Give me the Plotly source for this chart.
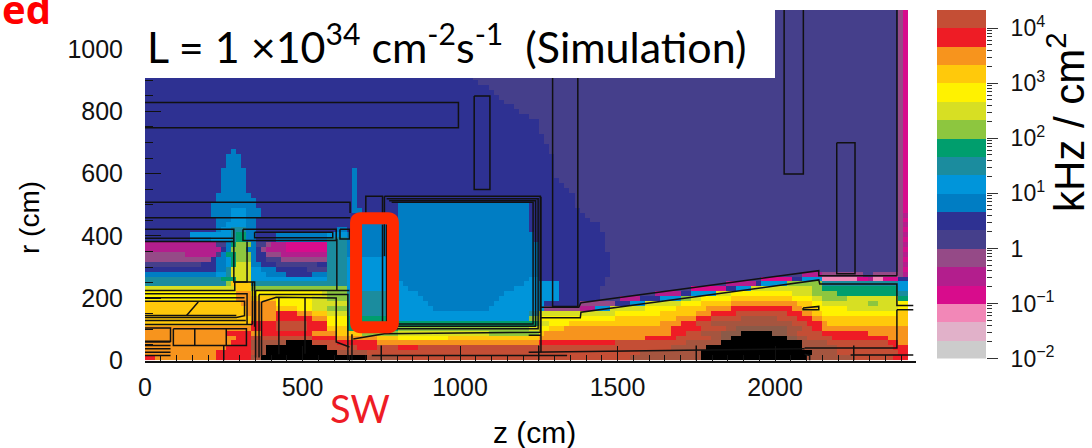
import numpy as np
import plotly.graph_objects as go

# Flux classes, lowest to highest; each class is a third of a decade, kHz/cm2.
level_codes = "ABCDEFGHIJKLMNOPQRSTUV"
level_colors = ["#CCCCCC", "#E1B1C9", "#F287B7", "#D80C8C", "#B31E8D", "#954A87",
                "#453F8B", "#2E3192", "#007DC3", "#0095DA", "#1B8C9E", "#009E6D",
                "#8DC63F", "#D7DF23", "#FFF200", "#FFC90B", "#F7941D", "#EE1C25",
                "#C44E35", "#A5553F", "#8B5A48", "#000000"]
colorbar_levels = 19

z_cell_cm = 16.05
r_cell_cm = 15.8

# One string per r row, bottom to top: class letter + last z cell of the run.
flux_rows = [
    "R2 Q14 R21.4 T23.4 V44 T50 S96 T110 V131 T140 S148 R151",
    "Q14 R21.4 S22.5 T24.4 V38.2 T44 S98 T110 V131.5 T137 S149 R151",
    "Q16.5 R21 T24.4 V35.6 S41.9 R45.8 S49.8 R53.7 S104 T111 V130 T137 S148 R151",
    "Q17 R21 T28 V32.6 S38 R45.8 Q78 R92.6 S107 T113.7 V129.8 T135 S147.3 R149 Q151",
    "Q18 R21.2 S33 R38 Q45.8 P49.8 O59.7 P78 Q99 R105 S112 T114 U116 V127 U129 T131 S136 R147 Q151",
    "Q16 R20.7 Q23 R33 Q38 P43 M50 N68 M78 P79.4 Q104 R107 S110 T114 U118 V124 U127 T129 S134 R143 Q151",
    "Q21 R26 S32 R36 P40.5 L50 M76 N78 O80 P83 Q104 R110 S115 T117 U127 T130 S132 R133.5 Q151",
    "P21 R26 S32 R36 O40.5 L78 N80 O84 P102 Q106 R109 S112 T128 S131 R133.5 Q135 P151",
    "P21 Q26 R33 Q36 O40.5 L49 J76 M78 O93 P105 Q109 R112 S118 T125 S129 R131.5 Q134.4 P151",
    "P20 Q26 R30 Q33 P36 N40.5 K49 J76 K78 N93 O102.5 P109 Q112 R117 S127 R129.5 Q131.5 P134.4 O149 P151",
    "P20 Q26 P30 O33 N36 M40.5 K49 J57 I68 J79 F86.4 E89 J92 N99 O105.4 P111 Q115.6 R128 Q129.8 P133 O138.7 N149 O151",
    "P19 Q26 O33 N40.5 K49 J56 I69 J79 H86.4 F92.6 H96 J98.6 N106 O110 P115.6 Q128.8 P131.5 O134.4 N143 M145 N149 O151",
    "O18 Q21 P26 O33 N36 M40.5 K49 J55 I70 J82 H90 G93.8 E98.5 H102.5 J106 M108 N110 O115.6 P127.5 O131.5 N134.4 M139 N149 L151",
    "O18 Q21 O35 N36 M40.5 K49 J54 I71 J82 H90 G101 E106 H108 J113 N115.6 O127.5 N131.5 M136.7 L149 K151",
    "N18 P21 M40.5 J52 I73 J82 H90 G108 D115 H117 J120.5 N131.5 M134 L149 J151",
    "K16 M17 P21 K40.5 J51 I75 J82 H91 G115 E121 H122 J127 M133.5 K149 J151",
    "K15 L18 N20.7 J36 K40.5 J50.5 I76 J78 H91 G122.4 D128 H130 J133.6 C141 D142.6 E144.5 C146.3 D149 H151",
    "I14 J16 K17 N20.7 J24 I28 H33 I36 K40.5 J49 I78 H92 G130 E133.6 F142 G144 F150 E151",
    "H14 I16 K17 N20.7 J23 I26 H32 G36 K40.5 J49 I78 H92 G149.3 F150.2 D151",
    "G11 H14 I16 J17 L18 N20.7 I23 H26 G34 H36 K40.5 J49 I78 H92 G149.3 F150.2 E151",
    "F13 H14.5 I16.5 J17 L18 M20.7 I22 H24 G27 F36 K40.5 J49 I78 H92 G149.3 F150.2 D151",
    "F8 E13.8 G15 I16.5 L18 M20.7 I22 H24 F27 E36 K40.5 I78 H92 G149.3 F150.2 E151",
    "E14.8 H15.5 I17 M20.5 I22 H23 F24 E28 D36 K40.5 I78 H91 G149.3 F150.2 D151",
    "E14.5 G15.5 I17 L18 M20.7 I22 G23.5 F25 E28 D36.5 K40.5 I78 H91 G149.3 F150.2 E151",
    "H9.2 I13 J17 K18 L20 I22 H26 I36 K40.5 I77 H91 G149.3 F150.2 D151",
    "H9.2 J17 K18 L20 I22 H26 I36 J40.5 I77 H91 G149.3 F150.2 E151",
    "H13.8 I15 J17 K20 I22.5 H38 I40 H43 I48 H49.5 I76.5 H90 G149.3 F150.2 D151",
    "H13.8 I16.5 J20.5 I22.5 H43 I48 H49.5 I76.5 H90 G149.3 F150.2 E151",
    "H13.5 I17 J19.5 I22.5 H49.5 I76.5 H88 G149.3 F150.2 D151",
    "H13.2 I17 J19.7 I22.8 H49.5 I76.5 H87 G149.3 F150.2 E151",
    "H13.2 I17 J19.7 I23 H41 I43 H49.5 I76.5 H86 G149.3 F150.2 D151",
    "H13.2 I22.5 H41.3 I42.5 H49.5 I76.5 H85 G149.3 F150.2 D151",
    "H14 I21.5 H41.3 I42 H85 G149.3 F150.2 D151",
    "H14 I21.3 H41.3 I42 H85 G149.3 F150.2 D151",
    "H15 I20.5 H41.3 I42 H84 G149.3 F150.2 D151",
    "H15 I20.5 H41.3 I42 H83 G149.3 F150.2 D151",
    "H15 I20 H41.3 I42 H82 G149.3 F150.2 D151",
    "H15 I19.5 H41.3 I42 H81 G149.3 F150.2 D151",
    "H15 I19.5 H41.3 I42 H81 G149.3 F150.2 D151",
    "H16 I19 H81 G149.3 F150.2 D151",
    "H16 I18.8 H81 G149.3 F150.2 D151",
    "H16 I18.8 H81 G149.3 F150.2 D151",
    "H16.8 I17.8 H80 G149.3 F150.2 D151",
    "H80 G149.3 F150.2 D151",
    "H79 G149.3 F150.2 D151",
    "H79 G149.3 F150.2 D151",
    "H78 G149.3 F150.2 D151",
    "H78 G149.3 F150.2 D151",
    "H78 G149.3 F150.2 D151",
    "H76.5 G149.3 F150.2 D151",
    "H74 G149.3 F150.2 D151",
    "H73 G149.3 F150.2 D151",
    "H71 G149.3 F150.2 D151",
    "H70 G149.3 F150.2 D151",
    "H69 G149.3 F150.2 D151",
    "H68 G149.3 F150.2 D151",
    "H66 G149.3 F150.2 D151",
    "H65 G149.3 F150.2 D151",
    "H65 G149.3 F150.2 D151",
    "H65 G149.3 F150.2 D151",
    "H65 G149.3 F150.2 D151",
    "H65 G149.3 F150.2 D151",
    "H65 G149.3 F150.2 D151",
    "H65 G149.3 F150.2 D151",
    "H65 G149.3 F150.2 D151",
    "H65 G149.3 F150.2 D151",
    "H65 G149.3 F150.2 D151",
    "H65 G149.3 F150.2 D151",
    "H65 G149.3 F150.2 D151",
    "H65 G149.3 F150.2 D151",
    "H65 G149.3 F150.2 D151",
    "H65 G149.3 F150.2 D151",
]

# Detector outlines, (z cm, r cm) vertices.
detector_outlines = [
    [(0, 839), (995, 839), (995, 757), (0, 757)],
    [(1045, 860), (1095, 860), (1095, 556), (1045, 556), (1045, 860)],
    [(0, 515), (651, 515), (651, 480)],
    [(0, 464), (651, 464)],
    [(0, 427), (282, 427), (282, 255), (285, 255), (285, 228), (0, 228)],
    [(0, 398), (282, 398)],
    [(0, 387), (282, 387)],
    [(324, 387), (324, 255), (285, 255)],
    [(285, 255), (348, 255), (348, 110)],
    [(341, 255), (341, 117)],
    [(0, 217), (324, 217), (324, 117)],
    [(0, 204), (316, 204)],
    [(0, 193), (316, 193), (316, 146), (290, 140), (0, 140)],
    [(0, 146), (290, 146)],
    [(0, 130), (320, 130)],
    [(132, 146), (169, 190)],
    [(0, 117), (341, 117)],
    [(0, 106), (81, 106), (81, 63), (0, 63)],
    [(90, 103), (322, 103), (322, 49), (90, 49), (90, 103)],
    [(158, 103), (158, 49)],
    [(258, 103), (258, 49)],
    [(0, 60), (81, 60)],
    [(0, 49), (81, 49)],
    [(0, 38), (81, 38)],
    [(0, 27), (81, 27)],
    [(0, 16), (81, 16)],
    [(311, 427), (607, 427), (607, 390), (311, 390), (311, 427)],
    [(348, 417), (596, 417), (596, 399), (348, 399), (348, 417)],
    [(619, 427), (649, 427), (649, 395), (619, 395), (619, 427)],
    [(609, 396), (609, 228)],
    [(351, 228), (649, 228)],
    [(351, 228), (351, 10)],
    [(362, 215), (644, 215), (644, 0)],
    [(362, 215), (362, 10)],
    [(370, 190), (417, 206), (607, 203), (607, 60), (649, 44)],
    [(370, 190), (370, 15)],
    [(425, 203), (425, 20)],
    [(508, 203), (508, 22)],
    [(657, 85), (657, 0)],
    [(701, 480), (701, 534), (754, 534), (754, 480)],
    [(686, 442), (686, 127)],
    [(754, 442), (754, 127)],
    [(767, 442), (767, 127)],
    [(760, 534), (1255, 534), (1255, 92), (760, 87), (661, 70)],
    [(760, 534), (760, 340)],
    [(767, 526), (1248, 526), (1248, 103), (790, 103)],
    [(775, 520), (1240, 520), (1240, 111), (790, 111)],
    [(783, 515), (1232, 515), (1232, 119), (790, 119)],
    [(1257, 533), (1257, 27)],
    [(1218, 82), (1257, 82)],
    [(1257, 173), (1377, 173), (1384, 188), (2139, 292), (2139, 276), (2387, 276)],
    [(1257, 139), (1382, 139), (1384, 157), (2139, 262), (2142, 249), (2387, 249), (2387, 179), (2439, 179)],
    [(2387, 165), (2439, 165)],
    [(2387, 165), (2387, 41), (2094, 41)],
    [(1218, 27), (1743, 35), (2094, 38)],
    [(2094, 20), (2110, 16), (2110, 0)],
    [(2240, 18), (2439, 18)],
    [(720, 16), (1340, 16)],
    [(1294, 1140), (1294, 176), (1374, 176), (1374, 1140)],
    [(2029, 1140), (2029, 607), (2090, 607), (2090, 1140)],
    [(2196, 708), (2254, 708), (2254, 282), (2196, 282), (2196, 708)],
    [(2387, 1140), (2387, 276)],
    [(2089, 171), (2139, 176), (2139, 165), (2089, 165), (2089, 171)],
]
outline_r_calibration = 0.987

z_tick_values = [0, 500, 1000, 1500, 2000]
z_long_ticks = [250, 750, 1250, 1750, 2250]
z_long_tick_r = 48
r_tick_values = [0, 200, 400, 600, 800, 1000]
cb_tick_values = [-2, -1, 0, 1, 2, 3, 4]
cb_tick_labels = ["10<sup>\u22122</sup>", "10<sup>\u22121</sup>", "1", "10<sup>1</sup>",
                  "10<sup>2</sup>", "10<sup>3</sup>", "10<sup>4</sup>"]

W, H = 1092, 448


def fx(px):
    return px / W


def fy(px):
    return 1 - px / H


def parse_row(text, n_cols=151):
    out = np.zeros(n_cols, dtype=int)
    start = 0
    for run in text.split():
        end = min(n_cols, int(round(float(run[1:]))))
        out[start:end] = level_codes.index(run[0])
        start = end
    return out


grid = np.array([parse_row(t) for t in flux_rows])
z_edges = np.arange(grid.shape[1] + 1) * z_cell_cm
r_edges = np.arange(grid.shape[0] + 1) * r_cell_cm

n = len(level_colors)
scale = []
for i, c in enumerate(level_colors):
    scale += [[i / n, c], [(i + 1) / n, c]]

outline_z, outline_r = [], []
for poly in detector_outlines:
    outline_z += [p[0] for p in poly] + [None]
    outline_r += [p[1] * outline_r_calibration for p in poly] + [None]
for t in z_long_ticks:
    outline_z += [t, t, None]
    outline_r += [0, z_long_tick_r, None]

fig = go.Figure()
fig.add_trace(go.Heatmap(x=z_edges, y=r_edges, z=grid, colorscale=scale, zmin=-0.5,
                         zmax=n - 0.5, showscale=False, hoverinfo="skip",
                         xaxis="x", yaxis="y"))
fig.add_trace(go.Scatter(x=outline_z, y=outline_r, mode="lines",
                         line=dict(color="#111111", width=1.5), hoverinfo="skip",
                         showlegend=False, xaxis="x", yaxis="y", cliponaxis=True))
cb_edges = -2 + np.arange(colorbar_levels + 1) / 3
fig.add_trace(go.Heatmap(x=[0, 1], y=cb_edges, z=np.arange(colorbar_levels).reshape(-1, 1),
                         colorscale=scale, zmin=-0.5, zmax=n - 0.5, showscale=False,
                         hoverinfo="skip", xaxis="x2", yaxis="y2"))

axis_font = dict(family="Liberation Sans", size=25, color="#111111")
minor_cb = [d + np.log10(m) for d in range(-2, 4) for m in range(2, 10)]

fig.update_layout(
    width=W, height=H, margin=dict(l=0, r=0, t=0, b=0),
    paper_bgcolor="white", plot_bgcolor="white", showlegend=False,
    xaxis=dict(domain=[fx(145), fx(916)], range=[0, 771 / 0.315], tickmode="array",
               tickvals=z_tick_values, ticks="inside", ticklen=15, automargin=False,
               tickcolor="#111111", tickwidth=1, showgrid=False, zeroline=False,
               showline=True, linecolor="#111111", linewidth=2, tickfont=axis_font,
               ticklabelstandoff=3, anchor="y",
               minor=dict(dtick=50, ticks="inside", ticklen=6, tickcolor="#111111",
                          showgrid=False)),
    yaxis=dict(domain=[fy(360.5), fy(10)], range=[0, 350.5 / 0.3115], tickmode="array",
               tickvals=r_tick_values, ticks="inside", ticklen=16, tickcolor="#111111",
               tickwidth=1, showgrid=False, zeroline=False, showline=False, automargin=False,
               tickfont=axis_font, ticklabelstandoff=21, anchor="x",
               minor=dict(dtick=50, ticks="inside", ticklen=8, tickcolor="#111111",
                          showgrid=False)),
    xaxis2=dict(domain=[fx(937), fx(986)], range=[0, 1], visible=False, anchor="y2",
                automargin=False),
    yaxis2=dict(domain=[fy(358.5), fy(10)], range=[-2, 4 + 1 / 3], side="right", anchor="x2",
                tickmode="array", tickvals=cb_tick_values, ticktext=cb_tick_labels,
                ticks="outside", ticklen=11, tickcolor="#333333", tickwidth=1,
                showgrid=False, zeroline=False, showline=False, ticklabelstandoff=8,
                automargin=False,
                tickfont=dict(family="Liberation Sans", size=23, color="#111111"),
                minor=dict(tickmode="array", tickvals=minor_cb, ticks="outside", ticklen=5,
                           tickcolor="#333333", showgrid=False)),
)

fig.add_shape(type="rect", xref="paper", yref="paper", x0=fx(145), x1=fx(775), y0=fy(78),
              y1=1, fillcolor="white", line_width=0, layer="above")
fig.add_shape(type="path", xref="x", yref="y", layer="above",
              path="M 685,457 L 772,457 Q 787,457 787,442 L 787,122 Q 787,107 772,107 "
                   "L 685,107 Q 670,107 670,122 L 670,442 Q 670,457 685,457 Z",
              line=dict(color="#FF2A00", width=12))


def note(text, x, y, size, color="black", family="Lato", angle=0, xanchor="center", bold=False):
    fig.add_annotation(text=f"<b>{text}</b>" if bold else text, xref="paper", yref="paper",
                       x=fx(x), y=fy(y), xanchor=xanchor, yanchor="middle", showarrow=False,
                       textangle=angle, font=dict(family=family, size=size, color=color))


note("L = 1 \u00d710<sup>34</sup> cm<sup>-2</sup>s<sup>-1</sup>\u00a0\u00a0(Simulation)", 145, 43,
     43, xanchor="left")
note("ed", 26, 8, 40, color="#FF0000", family="Open Sans", bold=True)
note("SW", 360, 408, 38, color="#EE1C25")
note("z (cm)", 534, 432, 30, family="Liberation Sans")
note("r (cm)", 30, 218, 28, family="Liberation Sans", angle=-90)
note("kHz / cm<sup>2</sup>", 1066, 122, 42, family="Liberation Sans", angle=-90)

fig.write_html("out.html", config=dict(displayModeBar=False),
               post_script="document.body.style.margin='0';")
